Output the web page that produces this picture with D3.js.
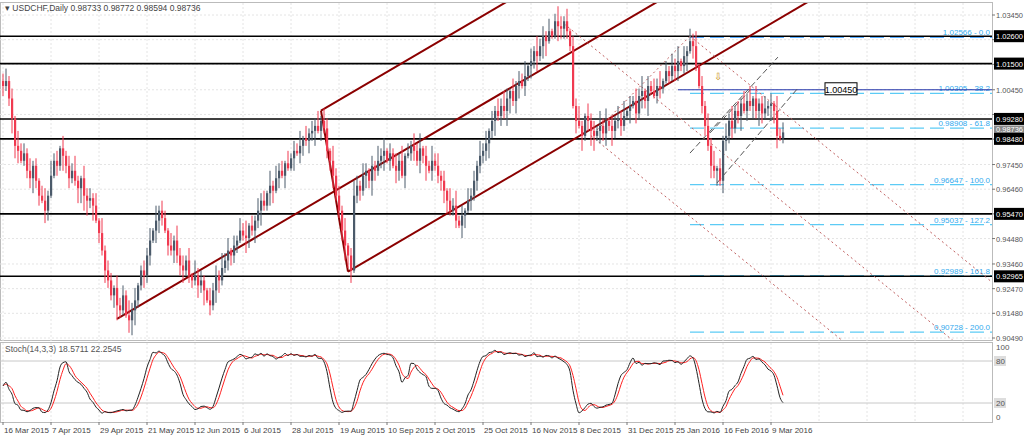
<!DOCTYPE html>
<html><head><meta charset="utf-8">
<script src="https://cdn.jsdelivr.net/npm/d3@7"></script>
<style>body{margin:0;background:#fff}svg{font-family:"Liberation Sans",Arial,sans-serif}</style>
</head><body><svg id="c" width="1024" height="438"></svg>
<script>
const closes=[10060,10080,10010,9930,9820,9800,9760,9790,9720,9690,9740,9680,9620,9600,9560,9620,9700,9760,9740,9810,
9780,9740,9690,9720,9680,9650,9690,9620,9600,9610,9580,9520,9470,9400,9320,9280,9220,9250,9180,9160,9220,9140,9120,9160,
9200,9260,9320,9300,9380,9440,9480,9520,9560,9530,9480,9420,9400,9440,9380,9340,9320,9360,9300,9280,9300,9260,9280,9240,9200,
9180,9240,9300,9280,9330,9360,9400,9380,9420,9440,9480,9460,9450,9500,9480,9520,9560,9600,9580,9630,9660,9640,9690,9720,9700,
9750,9730,9770,9800,9790,9820,9850,9840,9870,9880,9900,9880,9920,9890,9800,9760,9700,9620,9560,9480,9420,9380,9320,
9620,9660,9640,9700,9720,9680,9740,9720,9760,9780,9800,9760,9790,9740,9720,9760,9700,9780,9790,9820,9800,9760,9810,9780,9740,
9720,9760,9740,9700,9680,9640,9600,9560,9580,9520,9500,9540,9560,9600,9620,9680,9740,9780,9800,9830,9880,9920,9960,9940,9980,
9960,10010,10040,10000,10060,10080,10060,10100,10140,10160,10200,10180,10220,10260,10240,10280,10260,10320,10300,10290,
10320,10280,10220,9980,9920,9900,9860,9940,9920,9880,9860,9880,9900,9870,9920,9900,9880,9920,9930,9900,9940,
9960,9980,10000,9950,10020,10040,10000,10060,10040,10020,10060,10050,10080,10120,10100,10140,10120,10160,10140,10180,
10200,10240,10220,10140,10060,9980,9900,9820,9740,9720,9730,9680,9840,9860,9920,9890,9960,9940,9990,9960,10000,9980,
10010,9960,9990,9950,9970,9980,9990,9960,9860,9850,9874];
const wickStr="3524163425231452634152436215342516243153426351243516243152634251634215342635142536142534162534152436152436254163425136425314263514253614253614263524153624153426351425364152436152634251364251436215342635142536142536142536142536142536142536142536242536152";
const dateLabels=["16 Mar 2015","7 Apr 2015","29 Apr 2015","21 May 2015","12 Jun 2015","6 Jul 2015","28 Jul 2015","19 Aug 2015","10 Sep 2015","2 Oct 2015","25 Oct 2015","16 Nov 2015","8 Dec 2015","31 Dec 2015","25 Jan 2016","16 Feb 2016","9 Mar 2016"];
const priceTicks=[1.03450,1.02460,1.01470,1.00450,0.99460,0.98470,0.97450,0.96460,0.95470,0.94480,0.93460,0.92470,0.91480,0.90490];
const levels=[1.02600,1.01500,0.99280,0.98480,0.95470,0.92965];
const fibLevels=[1.02566,1.00305,0.98908,0.96647,0.95037,0.92989,0.90728];
const fibPct=["0.0","38.2","61.8","100.0","127.2","161.8","200.0"];
const resLevel=1.00450;
const lastPrice=0.98736;

const svg=d3.select("#c");
const W=992, bot=340;
const y=d3.scaleLinear().domain([1.0345,0.9049]).range([15,338]);
const x=d3.scaleLinear().domain([0,1]).range([3,6]);
const ys=d3.scaleLinear().domain([0,100]).range([417,347]);
const n=closes.length;
const data=closes.map((c,i)=>{const o=i?closes[i-1]:c+20;const w=+wickStr[i%wickStr.length];
 const wl=+wickStr[(i*7+3)%wickStr.length];
 return {o:o/1e4,c:c/1e4,h:(Math.max(o,c)+w*10)/1e4,l:(Math.min(o,c)-wl*10)/1e4};});

svg.append("rect").attr("x",0.5).attr("y",2.5).attr("width",W).attr("height",bot-2).attr("fill","none").attr("stroke","#bbb");
svg.append("rect").attr("x",0.5).attr("y",342.5).attr("width",W).attr("height",80).attr("fill","none").attr("stroke","#bbb");
const g=svg.append("g").attr("stroke","#e4e4e4").attr("stroke-dasharray","2,2");
for(let i=0;i<21;i++){const xx=x(i*16);g.append("line").attr("x1",xx).attr("x2",xx).attr("y1",3).attr("y2",422);}
priceTicks.forEach(p=>g.append("line").attr("x1",0).attr("x2",W).attr("y1",y(p)).attr("y2",y(p)));

[80,20].forEach(v=>svg.append("line").attr("x1",0).attr("x2",W).attr("y1",ys(v)).attr("y2",ys(v)).attr("stroke","#c8c8c8"));

const fibX0=x(229);
fibLevels.forEach((f,i)=>{
 svg.append("line").attr("x1",fibX0).attr("x2",W).attr("y1",y(f)).attr("y2",y(f)).attr("stroke",i==0?"#1e90ff":"#5ccbf5").attr("stroke-width",1.3).attr("stroke-dasharray","14,6");
 svg.append("text").attr("x",W-2).attr("y",y(f)-2).attr("text-anchor","end").attr("font-size",8).attr("fill","#33aaee").text(f.toFixed(5)+" - "+fibPct[i]);
});
levels.forEach(l=>svg.append("line").attr("x1",0).attr("x2",W).attr("y1",y(l)).attr("y2",y(l)).attr("stroke","#000").attr("stroke-width",1.6));
svg.append("line").attr("x1",x(225)).attr("x2",W).attr("y1",y(resLevel)).attr("y2",y(resLevel)).attr("stroke","#2233aa").attr("stroke-width",1);
svg.append("rect").attr("x",825).attr("y",y(resLevel)-7).attr("width",32).attr("height",12).attr("fill","#fff").attr("stroke","#000");
svg.append("text").attr("x",841).attr("y",y(resLevel)+3).attr("text-anchor","middle").attr("font-size",9).text(resLevel.toFixed(5));

svg.append("clipPath").attr("id","cp").append("rect").attr("x",0).attr("y",3).attr("width",W).attr("height",bot-3);
const pf=svg.append("g").attr("clip-path","url(#cp)");
const P0=[38,0.9126],P1=[106,0.9961],P2=[115,0.9315];
const mid=[(P1[0]+P2[0])/2,(P1[1]+P2[1])/2];
const slope=(mid[1]-P0[1])/(mid[0]-P0[0]);
const ext=p=>[p,[p[0]+300,p[1]+slope*300]];
[ext(P0),ext(P1),ext(P2),[P1,P2]].forEach(s=>pf.append("line").attr("x1",x(s[0][0])).attr("y1",y(s[0][1])).attr("x2",x(s[1][0])).attr("y2",y(s[1][1])).attr("stroke","#8b0000").attr("stroke-width",2));
const Q0=[187,1.0310],Q1=[229,1.0260],Q2=[196,0.9860];
const qm=[(Q1[0]+Q2[0])/2,(Q1[1]+Q2[1])/2];const qs=(qm[1]-Q0[1])/(qm[0]-Q0[0]);
[[Q0,[Q0[0]+300,Q0[1]+qs*300]],[Q1,[Q1[0]+300,Q1[1]+qs*300]],[Q2,[Q2[0]+300,Q2[1]+qs*300]],[Q1,Q2]].forEach(s=>pf.append("line").attr("x1",x(s[0][0])).attr("y1",y(s[0][1])).attr("x2",x(s[1][0])).attr("y2",y(s[1][1])).attr("stroke","#c06060").attr("stroke-width",1).attr("stroke-dasharray","2,3"));
[[[229,0.9791],[258.3,1.0176]],[[238,0.9671],[265,1.0052]],[[235.7,0.9872],[250,1.0056]]].forEach(s=>pf.append("line").attr("x1",x(s[0][0])).attr("y1",y(s[0][1])).attr("x2",x(s[1][0])).attr("y2",y(s[1][1])).attr("stroke","#555").attr("stroke-dasharray","6,3"));
svg.append("text").attr("x",718).attr("y",80).attr("font-size",10).attr("fill","#c89010").attr("text-anchor","middle").text("⇩");

const cg=svg.append("g");
data.forEach((d,i)=>{const up=d.c>=d.o;const col=up?"#4b5a6a":"#f03a50";const xx=x(i);
 cg.append("line").attr("x1",xx).attr("x2",xx).attr("y1",y(d.h)).attr("y2",y(d.l)).attr("stroke",col).attr("stroke-width",1);
 const t=y(Math.max(d.o,d.c)),b=y(Math.min(d.o,d.c));
 cg.append("rect").attr("x",xx-1).attr("y",t).attr("width",2.2).attr("height",Math.max(1,b-t)).attr("fill",col);
});

const K=[],D=[],raw=[];
data.forEach((d,i)=>{const s=data.slice(Math.max(0,i-13),i+1);const hh=d3.max(s,e=>e.h),ll=d3.min(s,e=>e.l);raw.push(hh>ll?100*(d.c-ll)/(hh-ll):50);});
raw.forEach((r,i)=>K.push(d3.mean(raw.slice(Math.max(0,i-2),i+1))));
K.forEach((r,i)=>D.push(d3.mean(K.slice(Math.max(0,i-2),i+1))));
const ln=d3.line().x((d,i)=>x(i)).y(d=>ys(d)).curve(d3.curveMonotoneX);
svg.append("path").attr("d",ln(D)).attr("fill","none").attr("stroke","#ff2020").attr("stroke-width",1);
svg.append("path").attr("d",ln(K)).attr("fill","none").attr("stroke","#222").attr("stroke-width",1);
svg.append("text").attr("x",5).attr("y",352).attr("font-size",8.5).attr("fill","#555").text("Stoch(14,3,3) 18.5711 22.2545");

const ax=svg.append("g").attr("font-size",8).attr("fill","#555");
const boxes=levels.concat([lastPrice]);
priceTicks.forEach(p=>{ax.append("line").attr("x1",W).attr("x2",W+3).attr("y1",y(p)).attr("y2",y(p)).attr("stroke","#777");
 if(boxes.some(b=>Math.abs(y(b)-y(p))<10))return;
 ax.append("text").attr("x",996).attr("y",y(p)+3).attr("textLength",27).attr("lengthAdjust","spacingAndGlyphs").text(p.toFixed(5));});
ax.append("rect").attr("x",994).attr("y",y(lastPrice)-7).attr("width",30).attr("height",7.5).attr("fill","#888");
ax.append("text").attr("x",996).attr("y",y(lastPrice)-0.5).attr("fill","#fff").attr("font-size",7).attr("textLength",27).attr("lengthAdjust","spacingAndGlyphs").text(lastPrice.toFixed(5));
levels.forEach(l=>{ax.append("rect").attr("x",994).attr("y",y(l)-6).attr("width",30).attr("height",12).attr("fill","#000");
 ax.append("text").attr("x",996).attr("y",y(l)+3).attr("fill","#fff").attr("textLength",27).attr("lengthAdjust","spacingAndGlyphs").text(l.toFixed(5));});
[[100,"100"],[80,"80"],[20,"20"],[0,"0"]].forEach(([v,t])=>{
 if(v==80||v==20)ax.append("rect").attr("x",994).attr("y",ys(v)-5).attr("width",12).attr("height",10).attr("fill","#ddd");
 ax.append("text").attr("x",996).attr("y",ys(v)+3).text(t);});
dateLabels.forEach((d,i)=>{const xx=x(i*16);svg.append("line").attr("x1",xx).attr("x2",xx).attr("y1",422).attr("y2",425).attr("stroke","#777");
 svg.append("text").attr("x",xx+1).attr("y",433).attr("font-size",8).attr("fill","#444").text(d);});
svg.append("text").attr("x",5).attr("y",11).attr("font-size",8.5).attr("fill","#444").text("▾ USDCHF,Daily  0.98733 0.98772 0.98594 0.98736");
</script></body></html>
